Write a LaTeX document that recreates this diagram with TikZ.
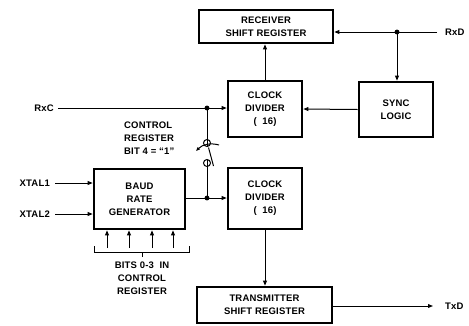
\documentclass[tikz,border=0pt]{standalone}
\usepackage{fontspec}
\setmainfont[LetterSpace=2]{Liberation Sans}
\usetikzlibrary{arrows.meta}
\tikzset{
  blk/.style={draw, line width=2.6pt, align=center, inner sep=0pt},
  lbl/.style={inner sep=0pt},
  wire/.style={line width=1pt},
  arr/.style={wire, -{Triangle[length=5pt,width=3.8pt]}},
}

\begin{document}
\begin{tikzpicture}[x=1pt, y=-1pt, font=\fontsize{9.5}{13}\selectfont\bfseries]
        \useasboundingbox (0,0) rectangle (469,325);

        % blocks
        \node[blk, minimum width=134pt, minimum height=33pt] (rsr) at (266,26.5) {RECEIVER\\SHIFT REGISTER};
        \node[blk, minimum width=74pt, minimum height=55pt] (sync) at (396,109.5) {SYNC\\LOGIC};
        \node[blk, minimum width=74pt, minimum height=56pt] (cdr) at (265,109) {CLOCK\\DIVIDER\\(\ \ 16)};
        \node[blk, minimum width=91pt, minimum height=60pt] (brg) at (139.5,199) {BAUD\\RATE\\GENERATOR};
        \node[blk, minimum width=74pt, minimum height=61pt] (cdt) at (265,198.5) {CLOCK\\DIVIDER\\(\ \ 16)};
        \node[blk, minimum width=135pt, minimum height=36pt] (tsr) at (264.5,305) {TRANSMITTER\\SHIFT REGISTER};

        % pins
        \node[lbl, anchor=west] (rxd) at (445,32) {RxD};
        \node[lbl, anchor=east] (rxc) at (54,108) {RxC};
        \node[lbl, anchor=east] (xtalone) at (50,183) {XTAL1};
        \node[lbl, anchor=east] (xtaltwo) at (50,214) {XTAL2};
        \node[lbl, anchor=west] (txd) at (445,306) {TxD};
        \node[lbl, anchor=north west, align=left] (ctrl) at (124,122) {CONTROL\\REGISTER\\BIT 4 = ``1''};
        \node[lbl, anchor=north, align=center] (bits) at (142,262) {BITS 0-3\ \ IN\\CONTROL\\REGISTER};

        \coordinate (rxdin) at (437,32);
        \coordinate (rxddot) at (397,32);
        \coordinate (rxcin) at (58,108);
        \coordinate (rxcdot) at (207,108);
        \coordinate (brgdot) at (207,198);
        \coordinate (swtop) at (207,143);
        \coordinate (swbot) at (207,163);
        \coordinate (txdout) at (433,306);

        % lines
        \draw[arr] (rxdin) -- (rxdin -| rsr.east);
        \draw[arr] (rxddot) -- (rxddot |- sync.north);
        \draw[arr] (cdr.north) -- (cdr.north |- rsr.south);
        \draw[arr] (sync.west) -- (cdr.east);
        \draw[arr] (rxcin) -- (rxcin -| cdr.west);
        \draw[arr] (xtalone.east) ++(5,0) -- (xtalone -| brg.west);
        \draw[arr] (xtaltwo.east) ++(5,0) -- (xtaltwo -| brg.west);
        \draw[arr] (brg.east |- brgdot) -- (brgdot -| cdt.west);
        \draw[arr] (cdt.south) -- (cdt.south |- tsr.north);
        \draw[arr] (tsr.east |- txdout) -- (txdout);
        \foreach \x in {107,129,152,173}
            \draw[arr] (\x,248) -- (\x,0 |- brg.south);

        % switch
        \draw[wire] (rxcdot) -- ([yshift=-3.5pt]swtop);
        \draw[wire] (brgdot) -- ([yshift=3.5pt]swbot);
        \draw[wire] (swtop) circle (3.5pt);
        \draw[wire] (swbot) circle (3.5pt);
        \draw[wire] (208.5,147.5) -- (213.5,166);
        \draw[wire, -{Triangle[length=4pt,width=3pt]}] (219,145) to[bend right=30] (196,151);

        % bracket
        \draw[wire] (94,246) -- (94,252) -- (189,252) -- (189,246);
        \draw[wire] (142,252) -- (142,257);

        % points
        \draw[fill] (rxddot) circle (2.2pt);
        \draw[fill] (rxcdot) circle (2.2pt);
        \draw[fill] (brgdot) circle (2.2pt);
\end{tikzpicture}
\end{document}
